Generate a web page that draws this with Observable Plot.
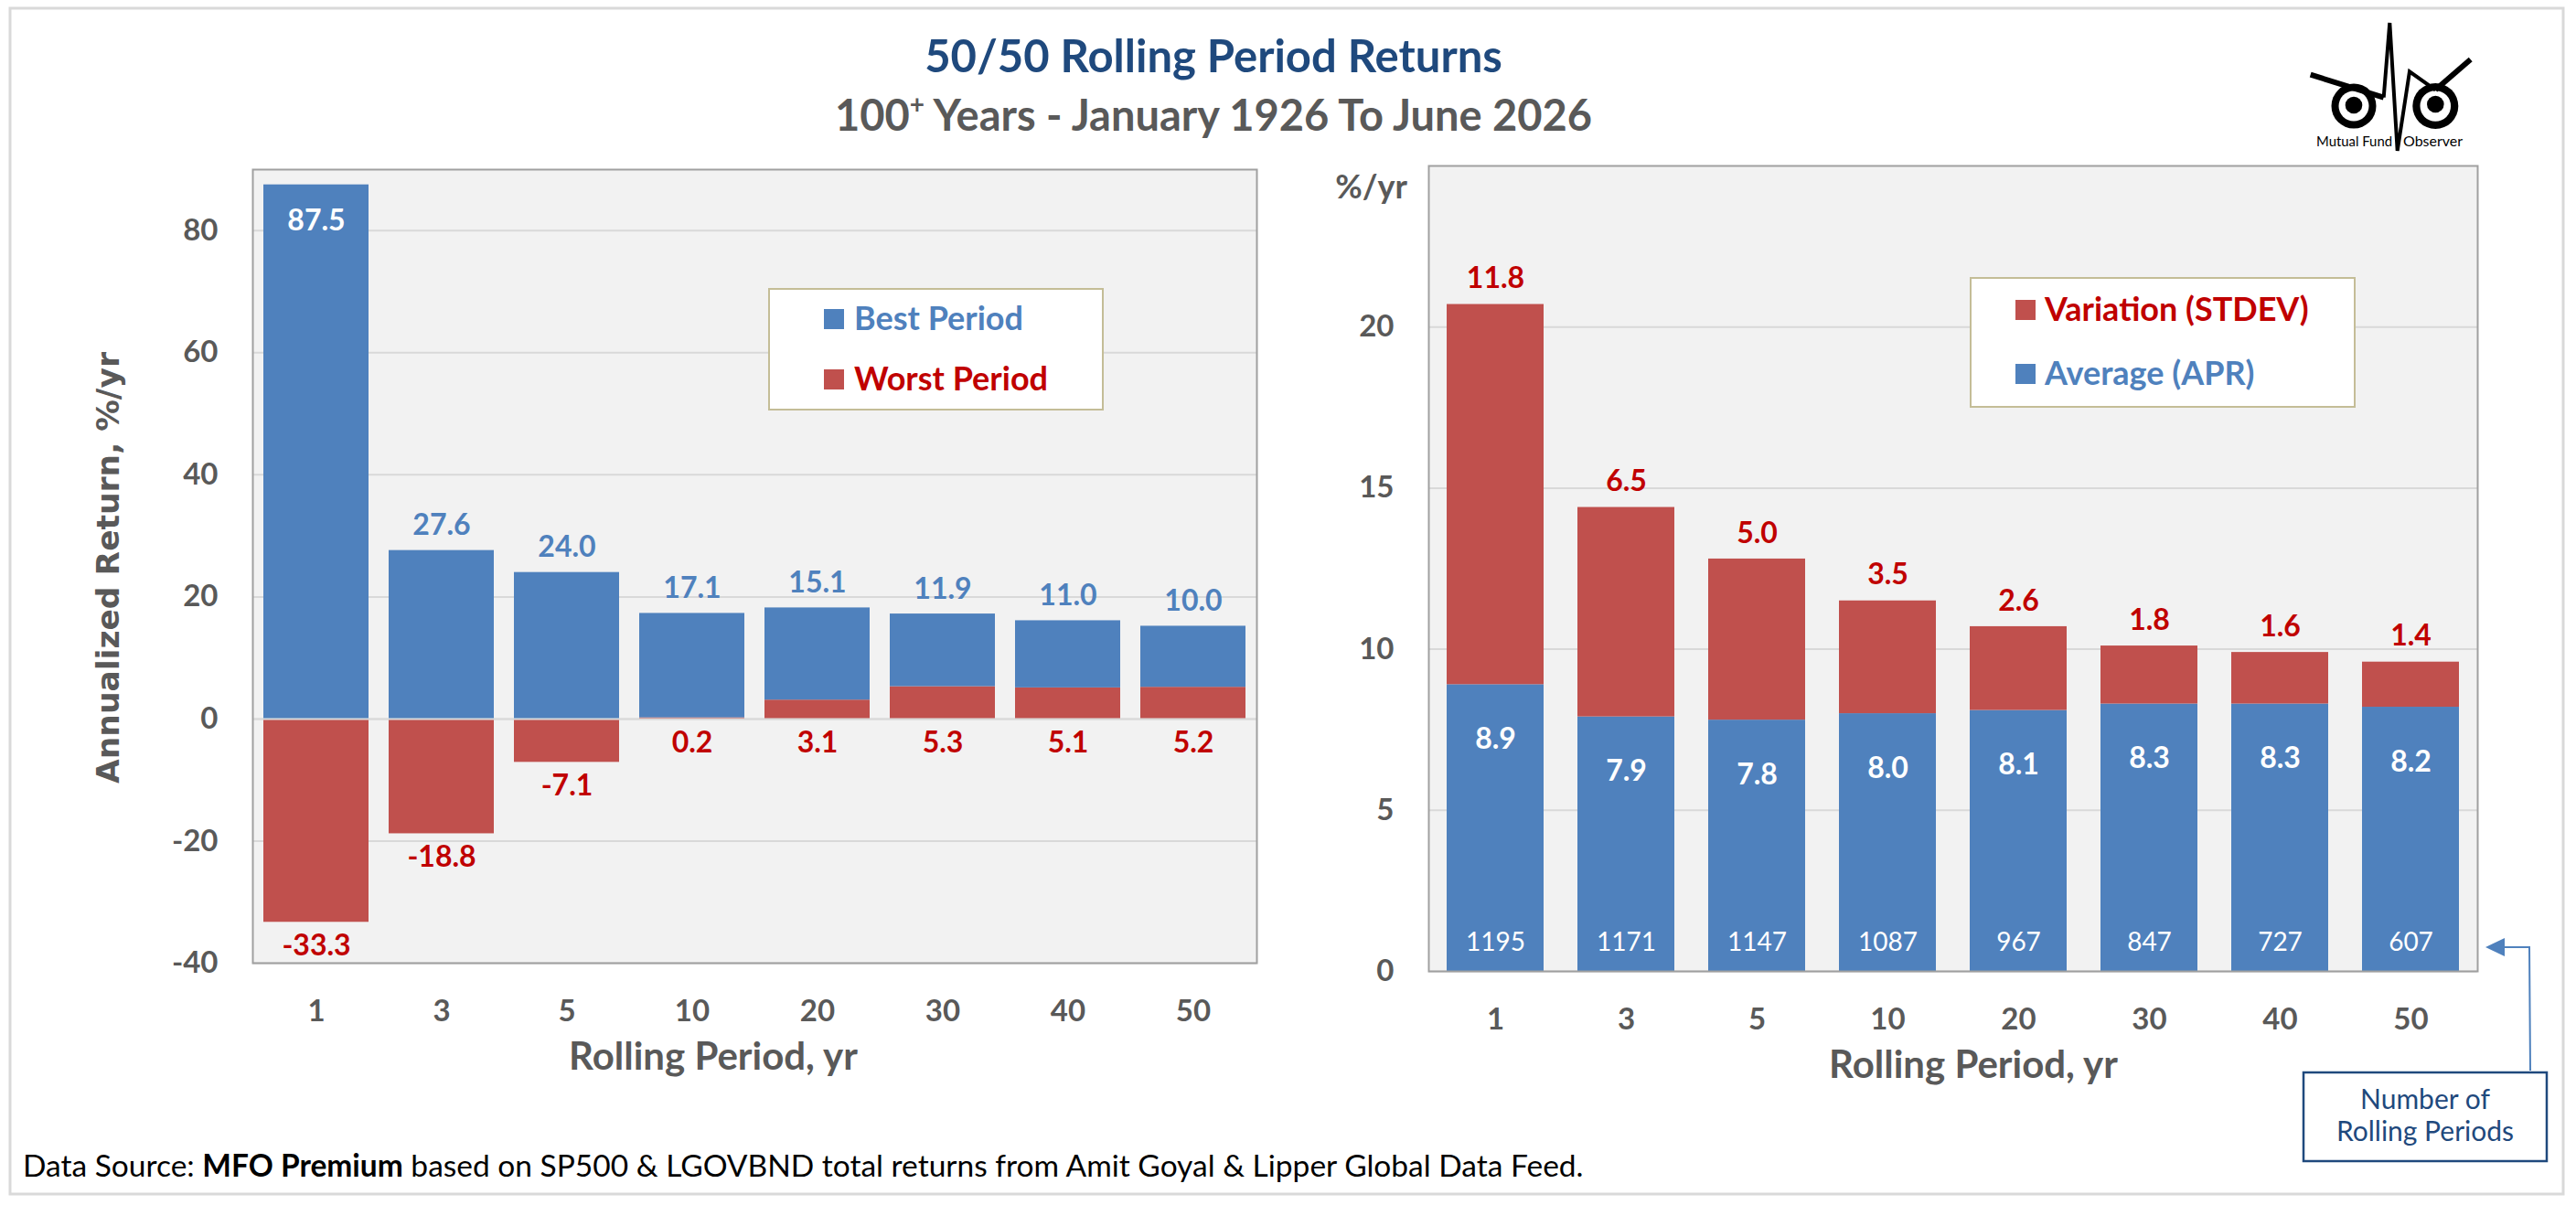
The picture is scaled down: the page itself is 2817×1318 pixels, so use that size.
<!DOCTYPE html>
<html><head><meta charset="utf-8">
<script src="https://cdn.jsdelivr.net/npm/d3@7"></script>
<script src="https://cdn.jsdelivr.net/npm/@observablehq/plot@0.6"></script>
<style>
html,body{margin:0;padding:0;background:#fff;}
#page{position:relative;width:2817px;height:1318px;overflow:hidden;background:#fff;}
#page > svg{position:absolute;top:0;}
</style></head><body><div id="page"></div>
<script>
// ---- data ----
const periods = ["1","3","5","10","20","30","40","50"];
const bestPeriod = [87.5, 27.6, 24.0, 17.1, 15.1, 11.9, 11.0, 10.0];
const worstPeriod = [-33.3, -18.8, -7.1, 0.2, 3.1, 5.3, 5.1, 5.2];
const averageAPR = [8.9, 7.9, 7.8, 8.0, 8.1, 8.3, 8.3, 8.2];
const variationSTDEV = [11.8, 6.5, 5.0, 3.5, 2.6, 1.8, 1.6, 1.4];
const rollingCounts = [1195, 1171, 1147, 1087, 967, 847, 727, 607];
const leftYTicks = [-40, -20, 0, 20, 40, 60, 80];
const rightYTicks = [0, 5, 10, 15, 20];

const BLUE = "#4f81bd", RED = "#c0504d", DKRED = "#c00000", GRAY = "#595959";

const leftRows = [
  ...periods.map((p, i) => ({period: p, series: "Worst Period", value: worstPeriod[i]})),
  ...periods.map((p, i) => ({period: p, series: "Best Period", value: bestPeriod[i]}))
];
const leftLabels = periods.map((p, i) => ({
  period: p, best: bestPeriod[i], worst: worstPeriod[i],
  top: Math.max(worstPeriod[i], 0) + bestPeriod[i],
  bottom: Math.min(worstPeriod[i], 0)
}));
const rightRows = [
  ...periods.map((p, i) => ({period: p, series: "Average (APR)", value: averageAPR[i]})),
  ...periods.map((p, i) => ({period: p, series: "Variation (STDEV)", value: variationSTDEV[i]}))
];
const rightLabels = periods.map((p, i) => ({
  period: p, avg: averageAPR[i], sd: variationSTDEV[i], n: rollingCounts[i],
  top: averageAPR[i] + variationSTDEV[i]
}));

const baseStyle = {fontFamily: "Lato, sans-serif", fontSize: "33px", fontWeight: "bold",
  color: GRAY, background: "transparent", overflow: "visible"};

const left = Plot.plot({
  width: 1408, height: 1318,
  marginLeft: 276, marginRight: 34, marginTop: 185, marginBottom: 265,
  style: baseStyle,
  x: {type: "band", domain: periods, paddingInner: 0.16, paddingOuter: 0.08},
  y: {domain: [-40, 90]},
  color: {domain: ["Worst Period", "Best Period"], range: [RED, BLUE]},
  marks: [
    Plot.frame({fill: "#f2f2f2", stroke: "none"}),
    Plot.gridY(leftYTicks, {stroke: "#d9d9d9", strokeOpacity: 1, strokeWidth: 2}),
    Plot.barY(leftRows, Plot.stackY({x: "period", y: "value", fill: "series"})),
    Plot.ruleY([0], {stroke: "#d9d9d9", strokeWidth: 2}),
    Plot.frame({stroke: "#a0a0a0", strokeWidth: 2}),
    Plot.axisY(leftYTicks, {tickSize: 0, tickPadding: 38, tickFormat: d => String(d), label: null, fontSize: 33}),
    Plot.axisX({tickSize: 0, tickPadding: 40, label: null, fontSize: 33}),
    Plot.text(leftLabels, {filter: d => d.top > 80, x: "period", y: "top", text: d => d.best.toFixed(1),
      dy: 40, fill: "white", fontSize: 32, fontWeight: "bold"}),
    Plot.text(leftLabels, {filter: d => d.top <= 80, x: "period", y: "top", text: d => d.best.toFixed(1),
      dy: -27, fill: BLUE, fontSize: 32, fontWeight: "bold"}),
    Plot.text(leftLabels, {x: "period", y: "bottom", text: d => d.worst.toFixed(1),
      dy: 26, fill: DKRED, fontSize: 32, fontWeight: "bold"})
  ]
});
left.style.left = "0px";

const right = Plot.plot({
  width: 1409, height: 1318,
  marginLeft: 154, marginRight: 108, marginTop: 181, marginBottom: 256,
  style: baseStyle,
  x: {type: "band", domain: periods, paddingInner: 0.26, paddingOuter: 0.13},
  y: {domain: [0, 25]},
  color: {domain: ["Average (APR)", "Variation (STDEV)"], range: [BLUE, RED]},
  marks: [
    Plot.frame({fill: "#f2f2f2", stroke: "none"}),
    Plot.gridY(rightYTicks, {stroke: "#d9d9d9", strokeOpacity: 1, strokeWidth: 2}),
    Plot.barY(rightRows, Plot.stackY({x: "period", y: "value", fill: "series"})),
    Plot.frame({stroke: "#a0a0a0", strokeWidth: 2}),
    Plot.axisY(rightYTicks, {tickSize: 0, tickPadding: 38, tickFormat: d => String(d), label: null, fontSize: 33}),
    Plot.axisX({tickSize: 0, tickPadding: 40, label: null, fontSize: 33}),
    Plot.text(rightLabels, {x: "period", y: "top", text: d => d.sd.toFixed(1),
      dy: -28, fill: DKRED, fontSize: 32, fontWeight: "bold"}),
    Plot.text(rightLabels, {x: "period", y: "avg", text: d => d.avg.toFixed(1),
      dy: 60, fill: "white", fontSize: 32, fontWeight: "bold"}),
    Plot.text(rightLabels, {x: "period", y: () => 0, text: d => String(d.n),
      dy: -31, fill: "white", fontSize: 28, fontWeight: "normal"})
  ]
});
right.style.left = "1408px";

const page = document.getElementById("page");
page.appendChild(left);
page.appendChild(right);

// ---- overlay: titles, legends, annotation, logo, footnote ----
const NS = "http://www.w3.org/2000/svg";
const ov = document.createElementNS(NS, "svg");
ov.setAttribute("width", 2817); ov.setAttribute("height", 1318);
ov.style.left = "0px";
ov.innerHTML = `
<rect x="11" y="9" width="2792" height="1297" fill="none" stroke="#d9d9d9" stroke-width="3"/>
<g font-family="Lato, sans-serif" font-weight="bold">
  <text x="1327" y="79" text-anchor="middle" font-size="49" fill="#1f497d">50/50 Rolling Period Returns</text>
  <text x="1327" y="143" text-anchor="middle" font-size="47" fill="${GRAY}">100<tspan font-size="28" dy="-19">+</tspan><tspan dy="19"> Years - January 1926 To June 2026</tspan></text>
  <text x="780" y="1170" text-anchor="middle" font-size="42" fill="${GRAY}">Rolling Period, yr</text>
  <text x="2158" y="1179" text-anchor="middle" font-size="42" fill="${GRAY}">Rolling Period, yr</text>
  <text x="1539" y="217" text-anchor="end" font-size="36" fill="${GRAY}">%/yr</text>
</g>
<text transform="translate(130,621) rotate(-90)" text-anchor="middle" font-family="DejaVu Sans, sans-serif" font-weight="bold" font-size="34.5" fill="${GRAY}">Annualized Return, %/yr</text>

<rect x="841" y="316" width="365" height="132" fill="#fff" stroke="#c4bd97" stroke-width="2"/>
<rect x="901" y="338" width="22" height="22" fill="${BLUE}"/>
<rect x="901" y="404" width="22" height="22" fill="${RED}"/>
<g font-family="Lato, sans-serif" font-weight="bold" font-size="36">
  <text x="934" y="361" fill="${BLUE}">Best Period</text>
  <text x="934" y="427" fill="${DKRED}">Worst Period</text>
</g>

<rect x="2155" y="304" width="420" height="141" fill="#fff" stroke="#c4bd97" stroke-width="2"/>
<rect x="2204" y="328" width="22" height="22" fill="${RED}"/>
<rect x="2204" y="398" width="22" height="22" fill="${BLUE}"/>
<g font-family="Lato, sans-serif" font-weight="bold" font-size="36">
  <text x="2236" y="351" fill="${DKRED}">Variation (STDEV)</text>
  <text x="2236" y="421" fill="${BLUE}">Average (APR)</text>
</g>

<polyline points="2767,1171 2766,1036 2736,1036" fill="none" stroke="${BLUE}" stroke-width="2"/>
<polygon points="2718,1036 2739,1026 2739,1046" fill="${BLUE}"/>
<rect x="2519" y="1173" width="266" height="97" fill="#fff" stroke="#1f497d" stroke-width="2.5"/>
<g font-family="Lato, sans-serif" font-size="30" fill="#1f497d" text-anchor="middle">
  <text x="2652" y="1213">Number of</text>
  <text x="2652" y="1248">Rolling Periods</text>
</g>

<text x="25" y="1287" font-family="Lato, sans-serif" font-size="33.5" fill="#000">Data Source: <tspan font-weight="bold">MFO Premium</tspan> based on SP500 &amp; LGOVBND total returns from Amit Goyal &amp; Lipper Global Data Feed.</text>

<g>
  <circle cx="2574" cy="116" r="24.5" fill="#000"/>
  <circle cx="2574" cy="116" r="16.5" fill="#fff"/>
  <circle cx="2574" cy="115" r="9.3" fill="#000"/>
  <circle cx="2663.3" cy="116" r="25" fill="#000"/>
  <circle cx="2663.3" cy="116" r="16.8" fill="#fff"/>
  <circle cx="2663.3" cy="114" r="9.3" fill="#000"/>
  <line x1="2526.7" y1="81.7" x2="2606.7" y2="106.7" stroke="#000" stroke-width="6"/>
  <polyline points="2606.7,106.7 2613.3,25 2621.7,165 2635,78.3 2663.3,98.3" fill="none" stroke="#000" stroke-width="4" stroke-linejoin="miter" stroke-miterlimit="3"/>
  <line x1="2663.3" y1="98.3" x2="2701.7" y2="65" stroke="#000" stroke-width="6"/>
  <text x="2533" y="160" font-family="Lato, sans-serif" font-size="16" textLength="83" lengthAdjust="spacingAndGlyphs" fill="#000">Mutual Fund</text>
  <text x="2628" y="160" font-family="Lato, sans-serif" font-size="16" textLength="65" lengthAdjust="spacingAndGlyphs" fill="#000">Observer</text>
</g>
`;
page.appendChild(ov);
</script>
</body></html>
